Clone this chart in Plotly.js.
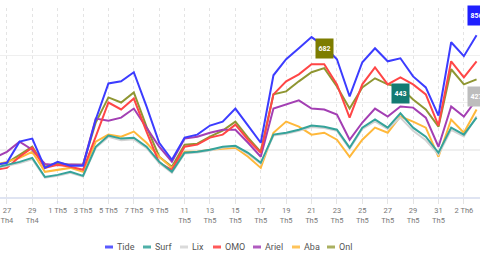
<!DOCTYPE html>
<html>
<head>
<meta charset="utf-8">
<script src="https://cdn.plot.ly/plotly-3.0.1.min.js"></script>
<style>html,body{margin:0;padding:0;background:#fff}#chart{width:480px;height:270px}</style>
</head>
<body>
<div id="chart"></div>
<script>
var dates = ["2024-04-26","2024-04-27","2024-04-28","2024-04-29","2024-04-30",
"2024-05-01","2024-05-02","2024-05-03","2024-05-04","2024-05-05","2024-05-06","2024-05-07","2024-05-08","2024-05-09","2024-05-10",
"2024-05-11","2024-05-12","2024-05-13","2024-05-14","2024-05-15","2024-05-16","2024-05-17","2024-05-18","2024-05-19","2024-05-20",
"2024-05-21","2024-05-22","2024-05-23","2024-05-24","2024-05-25","2024-05-26","2024-05-27","2024-05-28","2024-05-29","2024-05-30",
"2024-05-31","2024-06-01","2024-06-02","2024-06-03"];

var tide  = [170,181,293,309,154,186,165,165,410,601,612,660,479,287,197,314,330,378,399,468,378,287,644,729,787,846,798,729,532,713,787,718,734,638,580,431,819,745,856];
var surf  = [154,170,186,207,106,117,133,112,266,325,309,314,266,186,133,234,239,250,266,271,234,181,330,340,356,378,372,356,261,367,410,367,443,367,319,234,367,330,420];
var lix   = [150,165,180,200,102,112,128,108,260,318,300,305,260,180,128,230,236,246,262,268,228,176,325,335,350,370,365,350,255,360,400,360,420,350,300,225,355,320,427];
var omo   = [144,154,213,261,154,170,160,144,319,500,463,521,346,181,144,266,277,314,330,383,303,234,543,612,649,702,702,596,420,596,686,596,633,596,543,378,718,633,718];
var ariel = [207,239,293,250,175,168,172,170,415,404,420,468,367,266,186,309,319,340,356,356,287,213,468,489,511,468,463,436,303,394,468,426,479,473,420,266,479,426,516];
var aba   = [170,186,207,239,133,144,154,133,293,330,319,346,287,213,154,239,239,250,255,261,213,154,340,399,372,330,340,303,213,303,367,340,426,399,367,213,410,340,463];
var onl   = [170,181,223,266,160,181,170,170,394,527,500,553,372,213,160,277,282,319,351,399,314,239,543,559,612,660,682,585,468,580,628,596,580,516,463,372,676,596,622];

var tickVals = ["2024-04-27","2024-04-29","2024-05-01","2024-05-03","2024-05-05","2024-05-07","2024-05-09","2024-05-11","2024-05-13",
"2024-05-15","2024-05-17","2024-05-19","2024-05-21","2024-05-23","2024-05-25","2024-05-27","2024-05-29","2024-05-31","2024-06-02"];
var tickText = ["27<br>Th4","29<br>Th4","1 Th5","3 Th5","5 Th5","7 Th5","9 Th5","11<br>Th5","13<br>Th5",
"15<br>Th5","17<br>Th5","19<br>Th5","21<br>Th5","23<br>Th5","25<br>Th5","27<br>Th5","29<br>Th5","31<br>Th5","2 Th6"];

var names  = ["Tide","Surf","Lix","OMO","Ariel","Aba","Onl"];
var series = [tide, surf, lix, omo, ariel, aba, onl];
var colors = ["#3c3cff","#35a39a","#d2d2d2","#ff4646","#a33fb3","#ffb83a","#8f9632"];
var legendColors = ["#5a5aff","#4fb0a8","#dadada","#ff5a5a","#b15cc0","#ffc45a","#aab060"];
var labelSeries = [{i:0,color:"#1f1fff",font:"#ffffff"},{i:6,color:"#7d7d00",font:"#ffffff"},{i:1,color:"#137b72",font:"#ffffff"},{i:2,color:"#bdbdbd",font:"#ffffff"}];

var traces = [];
for (var k = series.length - 1; k >= 0; k--) {
  traces.push({x: dates, y: series[k], type: "scatter", mode: "lines", name: names[k],
    line: {color: colors[k], width: 2}, hoverinfo: "skip"});
}

var W = 480, H = 270, mt = 8, mb = 73;
var ph = H - mt - mb;
var annotations = [], shapes = [];
labelSeries.forEach(function (ls) {
  var s = series[ls.i], mi = 0;
  for (var j = 0; j < s.length; j++) if (s[j] >= s[mi]) mi = j;
  annotations.push({x: dates[mi], y: s[mi], xref: "x", yref: "y", text: "<b>" + s[mi] + "</b>",
    showarrow: false, yshift: 20, bgcolor: ls.color, borderpad: 2, width: 13, height: 15,
    font: {family: "Roboto, sans-serif", size: 7, color: ls.font}});
});

var legX = [105, 143, 180, 213, 253, 292, 327];
var legY = 247;
var py = (H - mb - legY) / ph;
for (var m = 0; m < names.length; m++) {
  shapes.push({type: "line", xref: "paper", yref: "paper", x0: legX[m] / W, x1: (legX[m] + 8) / W, y0: py, y1: py,
    line: {color: legendColors[m], width: 3}});
  annotations.push({xref: "paper", yref: "paper", x: (legX[m] + 10) / W, y: py, xanchor: "left", yanchor: "middle",
    text: names[m], showarrow: false, font: {family: "Roboto, sans-serif", size: 9, color: "#555"}});
}

var layout = {
  width: W, height: H,
  margin: {l: 0, r: 0, t: mt, b: mb},
  paper_bgcolor: "#ffffff", plot_bgcolor: "#ffffff",
  showlegend: false,
  xaxis: {type: "date", range: ["2024-04-26 11:00", "2024-06-03 06:30"],
    tickmode: "array", tickvals: tickVals, ticktext: tickText, ticklabeloverflow: "allow",
    showgrid: true, gridcolor: "#e4e4e4", griddash: "dot", gridwidth: 1,
    showline: true, linecolor: "#dfe4f2", linewidth: 2,
    ticks: "outside", ticklen: 5, tickcolor: "#e4e4e4",
    tickfont: {family: "Roboto, sans-serif", size: 7.5, color: "#777"}, zeroline: false},
  yaxis: {range: [0, 1000], dtick: 250, tick0: 0, showticklabels: false,
    showgrid: true, gridcolor: "#efefef", gridwidth: 1.5, zeroline: false},
  annotations: annotations, shapes: shapes
};

Plotly.newPlot("chart", traces, layout, {displayModeBar: false, staticPlot: true});
</script>
</body>
</html>
